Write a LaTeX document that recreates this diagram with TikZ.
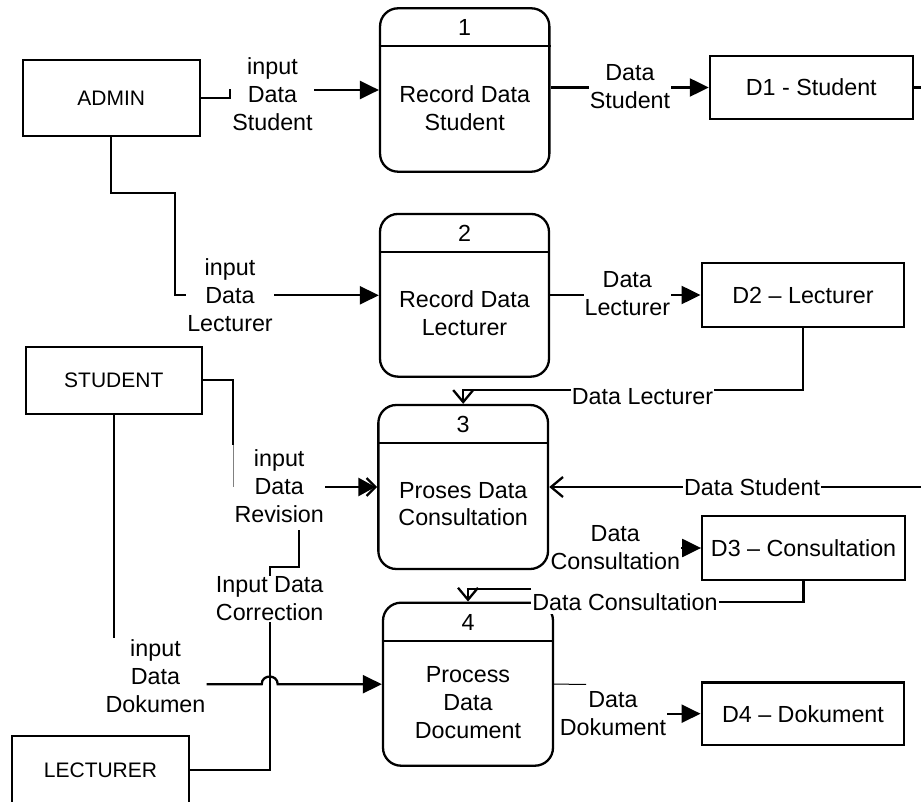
\documentclass[tikz,border=0pt]{standalone}
\usepackage{fontspec}
\setmainfont{Liberation Sans}
\usetikzlibrary{arrows.meta}
\begin{document}
\begin{tikzpicture}[x=1pt,y=-1pt,
  ent/.style={draw,line width=2.3pt,font=\fontsize{21}{25}\selectfont,inner sep=0pt},
  proc/.style={draw,line width=2.3pt,rounded corners=18pt,inner sep=0pt},
  store/.style={draw,line width=2.3pt,font=\fontsize{23.3}{28}\selectfont,inner sep=0pt},
  txt/.style={font=\fontsize{23.3}{27.6}\selectfont,align=center,inner sep=0pt},
  lbl/.style={font=\fontsize{23.3}{28}\selectfont,align=center,inner sep=1pt,fill=white},
  flow/.style={line width=2.3pt},
  tri/.style={-{Triangle[length=19pt,width=18pt]}},
  barb/.style={-{Straight Barb[length=12pt,width=20pt]}},
  dbl/.style={-{Triangle[length=17pt,width=18pt,sep=-10pt] Straight Barb[length=9pt,width=18pt]}},
]
\useasboundingbox (0,0) rectangle (921,802);

% external entities
\node[ent,minimum width=177.3pt,minimum height=76pt] (ADMIN) at (111.3,98) {ADMIN};
\node[ent,minimum width=176.3pt,minimum height=67.3pt] (STUDENT) at (113.8,380.3) {STUDENT};
\node[ent,minimum width=177pt,minimum height=68.6pt] (LECTURER) at (100.5,770) {LECTURER};

% processes
\node[proc,minimum width=169.3pt,minimum height=163.4pt] (P1) at (464.7,90) {};
\node[proc,minimum width=169pt,minimum height=162.7pt] (P2) at (464.5,295.3) {};
\node[proc,minimum width=169.7pt,minimum height=164pt] (P3) at (463.2,487) {};
\node[proc,minimum width=170pt,minimum height=163pt] (P4) at (468,684.2) {};
\draw[line width=2.3pt] (P1.west |- 0,46) -- (P1.east |- 0,46);
\draw[line width=2.3pt] (P2.west |- 0,252.3) -- (P2.east |- 0,252.3);
\draw[line width=2.3pt] (P3.west |- 0,443) -- (P3.east |- 0,443);
\draw[line width=2.3pt] (P4.west |- 0,641) -- (P4.east |- 0,641);
\node[txt] (n1) at (464.7,27) {1};
\node[txt] (n2) at (464.5,233) {2};
\node[txt] (n3) at (463.2,424) {3};
\node[txt] (n4) at (468,622) {4};
\node[txt] (t1) at (464.7,108.3) {Record Data\\Student};
\node[txt] (t2) at (464.5,313.3) {Record Data\\Lecturer};
\node[txt] (t3) at (463.2,504) {Proses Data\\Consultation};
\node[txt] (t4) at (468,702.5) {Process\\Data\\Document};

% data stores
\node[store,minimum width=202.7pt,minimum height=63pt] (D1) at (811.3,87.5) {D1 - Student};
\node[store,minimum width=202.6pt,minimum height=63.4pt] (D2) at (803,295) {D2 – Lecturer};
\node[store,minimum width=202.7pt,minimum height=64pt] (D3) at (803.6,548) {D3 – Consultation};
\node[store,minimum width=202.6pt,minimum height=62.7pt] (D4) at (803,713.7) {D4 – Dokument};

% coordinates
\coordinate (a1) at (230,98);
\coordinate (a2) at (230,90);
\coordinate (b1) at (175,193.3);
\coordinate (r1) at (940,87.5);
\coordinate (j6) at (463.2,390);
\coordinate (s1) at (233,445);
\coordinate (s2) at (233,487);
\coordinate (c1) at (299,530);
\coordinate (c2) at (299,566.7);
\coordinate (j11) at (468,589);
\coordinate (s12) at (586,684.3);

% connectors
\draw[flow,tri] (ADMIN.east) -- (a1) -- (a2) -- (P1.west);
\draw[flow,tri] (ADMIN.south) |- (b1) |- (P2.west);
\draw[flow,tri] (P1.east |- D1.west) -- (D1.west);
\draw[flow,barb] (D1.east) -- (r1) |- (P3.east);
\draw[flow,tri] (P2.east |- D2.west) -- (D2.west);
\draw[flow,barb] (D2.south) |- (j6) -- (P3.north);
\draw[flow] (STUDENT.east) -| (s1);
\draw[line width=0.8pt,gray] (s1) -- (s2);

% labels
\node[lbl] (L1) at (272.5,93.8) {input\\Data\\Student};
\node[lbl] (L2) at (230,295) {input\\Data\\Lecturer};
\node[lbl] (L3) at (630,86.7) {Data\\Student};
\node[lbl] (L4) at (627.3,293.3) {Data\\Lecturer};
\node[lbl] (L5) at (642.5,396.8) {Data Lecturer};
\node[lbl] (L6) at (752,487) {Data Student};
\node[lbl] (LRev) at (279.2,486.3) {input\\Data\\Revision};
\node[lbl] (LCorr) at (269.7,599) {Input Data\\Correction};
\node[lbl] (LDok) at (155.5,676) {input\\Data\\Dokumen};
\node[lbl,fill=none] (LCons) at (615.3,547.2) {Data\\Consultation};
\node[lbl,minimum height=24pt] (LDC) at (625,601.7) {Data Consultation};
\node[lbl] (LDokt) at (613,713.3) {Data\\Dokument};

\draw[flow,dbl] (LRev.east |- P3.west) -- (P3.west);
\draw[flow] (LECTURER.east) -| (LCorr.south);
\draw[flow] (c1) -- (c2) -| (LCorr.north);
\draw[flow] (STUDENT.south) -- (LDok.north -| STUDENT.south);
\draw[flow,tri] (LDok.east |- P4.west) -- (261.7,684.2) .. controls (261.7,674) and (277.7,674) .. (277.7,684.2) -- (P4.west);
\draw[flow,tri] (LCons.east |- D3.west) -- (D3.west);
\draw[flow] (D3.south) |- (LDC.east);
\draw[flow,barb] (LDC.west |- j11) -| (P4.north);
\draw[line width=1pt] (P4.east) -- (s12);
\draw[flow,tri] (LDokt.east |- D4.west) -- (D4.west);
\end{tikzpicture}
\end{document}
